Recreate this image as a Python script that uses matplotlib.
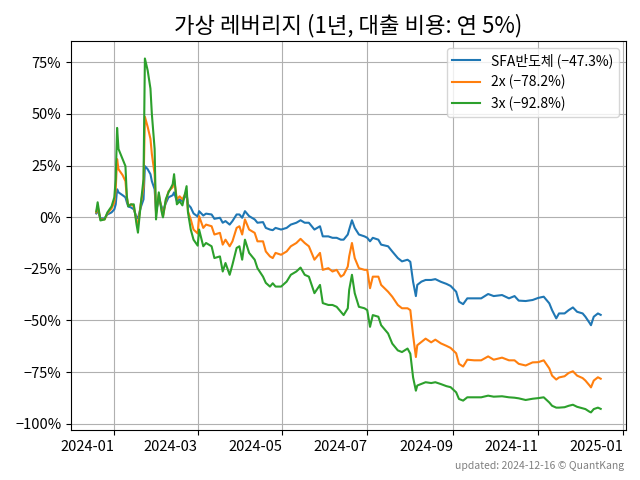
import matplotlib
matplotlib.use('Agg')
import matplotlib.pyplot as plt
import matplotlib.dates as mdates
from matplotlib.ticker import FuncFormatter
import pandas as pd

plt.rcParams['font.family'] = ['Noto Sans CJK KR', 'DejaVu Sans']
plt.rcParams['axes.unicode_minus'] = True

dates = [
    '2023-12-19', '2023-12-20', '2023-12-22', '2023-12-25', '2023-12-27', '2023-12-30',
    '2024-01-01', '2024-01-02', '2024-01-03', '2024-01-04', '2024-01-07', '2024-01-09',
    '2024-01-10', '2024-01-11', '2024-01-13', '2024-01-15', '2024-01-17', '2024-01-18',
    '2024-01-20', '2024-01-22', '2024-01-23', '2024-01-25', '2024-01-27', '2024-01-28',
    '2024-01-30', '2024-01-31', '2024-02-02', '2024-02-04', '2024-02-05', '2024-02-07',
    '2024-02-09', '2024-02-12', '2024-02-13', '2024-02-15', '2024-02-17', '2024-02-19',
    '2024-02-22', '2024-02-23', '2024-02-25', '2024-02-27', '2024-03-01', '2024-03-02',
    '2024-03-05', '2024-03-07', '2024-03-11', '2024-03-13', '2024-03-17', '2024-03-19',
    '2024-03-21', '2024-03-24', '2024-03-26', '2024-03-29', '2024-03-31', '2024-04-02',
    '2024-04-04', '2024-04-07', '2024-04-11', '2024-04-13', '2024-04-17', '2024-04-19',
    '2024-04-22', '2024-04-24', '2024-04-26', '2024-04-30', '2024-05-04', '2024-05-07',
    '2024-05-11', '2024-05-14', '2024-05-17', '2024-05-20', '2024-05-24', '2024-05-28',
    '2024-05-30', '2024-06-03', '2024-06-06', '2024-06-09', '2024-06-12', '2024-06-14',
    '2024-06-17', '2024-06-18', '2024-06-20', '2024-06-22', '2024-06-25', '2024-06-29',
    '2024-07-01', '2024-07-03', '2024-07-05', '2024-07-09', '2024-07-11', '2024-07-16',
    '2024-07-19', '2024-07-23', '2024-07-26', '2024-07-30', '2024-08-01', '2024-08-03',
    '2024-08-05', '2024-08-06', '2024-08-09', '2024-08-12', '2024-08-16', '2024-08-19',
    '2024-08-23', '2024-08-27', '2024-08-30', '2024-09-03', '2024-09-05', '2024-09-08',
    '2024-09-11', '2024-09-16', '2024-09-21', '2024-09-26', '2024-09-30', '2024-10-06',
    '2024-10-11', '2024-10-15', '2024-10-18', '2024-10-23', '2024-10-28', '2024-11-01',
    '2024-11-05', '2024-11-09', '2024-11-11', '2024-11-14', '2024-11-16', '2024-11-20',
    '2024-11-23', '2024-11-26', '2024-11-29', '2024-12-03', '2024-12-05', '2024-12-08',
    '2024-12-09', '2024-12-11', '2024-12-14', '2024-12-16',
]

# cumulative return, %
base_ret = [
    1.8, 3.3, -0.6, -0.6, 1.3, 2.3,
    3.8, 6.2, 13.5, 12.0, 10.6, 9.6,
    7.2, 5.2, 4.7, 3.8, -0.1, -0.6,
    4.7, 8.6, 24.7, 23.2, 20.8, 17.4,
    13.5, 2.8, 8.6, 5.2, 2.8, 6.7,
    9.6, 10.6, 12.0, 7.7, 8.6, 7.7,
    11.1, 6.2, 4.7, 1.8, 0.3, 2.9,
    0.8, 1.7, 1.3, -0.8, -0.3, -2.7,
    -1.9, -3.6, -1.9, 1.3, 1.3, -0.3,
    2.9, 0.5, -1.1, -2.7, -2.4, -5.2,
    -6.0, -6.3, -5.2, -6.0, -5.2, -3.6,
    -2.7, -1.5, -2.7, -2.7, -6.0, -4.4,
    -9.3, -9.3, -10.0, -10.0, -10.9, -10.9,
    -8.4, -6.0, -1.5, -5.2, -8.4, -9.3,
    -10.0, -11.7, -10.0, -10.9, -13.3, -14.1,
    -16.6, -19.8, -21.4, -20.6, -21.6, -31.3,
    -38.2, -32.8, -31.2, -30.4, -30.4, -30.0,
    -31.3, -32.3, -33.3, -36.1, -40.9, -42.1,
    -39.3, -39.3, -39.3, -37.2, -38.2, -37.7,
    -39.3, -38.2, -40.4, -40.6, -40.1, -39.1,
    -38.5, -41.7, -45.0, -49.0, -46.6, -46.6,
    -45.0, -43.7, -45.8, -46.6, -48.2, -51.2,
    -52.3, -48.2, -46.6, -47.3,
]

lev2_ret = [
    2.3, 5.2, -1.1, -1.1, 1.8, 4.2,
    7.2, 13.5, 28.1, 23.2, 20.3, 17.4,
    9.6, 5.7, 6.2, 5.2, -2.1, -4.0,
    6.2, 14.5, 48.6, 43.7, 37.9, 30.6,
    20.8, 1.8, 11.1, 3.8, 0.3, 7.7,
    12.5, 14.5, 18.4, 8.6, 10.1, 8.6,
    12.5, 2.8, -1.1, -6.0, -7.9, 0.5,
    -5.2, -3.6, -4.4, -8.4, -7.6, -13.3,
    -10.9, -14.1, -11.7, -5.2, -4.4, -8.4,
    -1.1, -6.0, -7.6, -11.7, -11.7, -16.6,
    -19.0, -19.8, -17.3, -18.2, -16.6, -14.1,
    -12.5, -10.5, -12.5, -14.1, -20.6, -17.3,
    -25.5, -24.7, -26.3, -25.5, -28.8, -27.9,
    -23.9, -19.0, -12.5, -19.8, -24.7, -25.5,
    -25.5, -34.4, -28.8, -28.8, -32.8, -36.1,
    -38.5, -42.5, -44.1, -44.1, -45.0, -57.2,
    -67.7, -62.0, -60.4, -58.8, -60.6, -59.3,
    -61.1, -62.3, -63.3, -65.9, -71.0, -72.3,
    -69.0, -69.3, -69.3, -67.4, -69.0, -68.0,
    -69.3, -69.3, -71.0, -71.8, -70.3, -70.2,
    -69.3, -73.2, -76.7, -78.6, -77.6, -77.0,
    -75.4, -74.6, -76.7, -77.9, -79.1, -81.5,
    -82.4, -79.1, -77.5, -78.2,
]

lev3_ret = [
    2.8, 7.2, -1.6, -1.1, 2.3, 5.2,
    9.6, 18.4, 43.2, 33.0, 28.1, 24.7,
    10.1, 5.2, 6.2, 6.2, -3.6, -7.5,
    6.2, 18.4, 76.8, 71.0, 62.2, 50.0,
    33.0, -1.1, 12.0, 2.8, -0.1, 8.6,
    12.0, 15.9, 20.8, 6.2, 7.7, 5.7,
    15.0, 2.3, -6.0, -10.9, -13.8, -6.0,
    -14.1, -12.5, -14.1, -19.8, -19.0, -26.3,
    -22.2, -27.9, -23.0, -14.9, -14.1, -20.6,
    -10.9, -17.3, -20.6, -24.7, -28.8, -31.8,
    -33.6, -32.0, -33.6, -33.6, -31.2, -27.9,
    -26.3, -24.4, -27.9, -28.8, -36.8, -32.8,
    -41.6, -42.5, -42.5, -43.4, -45.8, -47.4,
    -44.1, -35.2, -27.9, -36.8, -43.4, -44.1,
    -45.0, -53.1, -47.4, -48.2, -52.3, -56.3,
    -61.2, -64.5, -65.3, -63.6, -66.1, -77.6,
    -84.0, -81.5, -80.7, -79.9, -80.3, -79.9,
    -80.8, -81.8, -82.3, -84.8, -88.0, -88.8,
    -87.2, -87.2, -87.2, -86.4, -86.9, -86.7,
    -87.2, -87.4, -87.7, -88.5, -87.9, -87.6,
    -87.2, -89.7, -91.3, -92.2, -92.2, -92.0,
    -91.3, -90.8, -91.8, -92.5, -92.9, -94.2,
    -94.5, -92.9, -92.2, -92.8,
]

series_names = ['SFA반도체', '2x', '3x']


def fmt_pct(v):
    return f'{v:.1f}%'.replace('-', '\u2212')


df = pd.DataFrame({
    'date': pd.to_datetime(dates),
    'base': base_ret,
    'lev2': lev2_ret,
    'lev3': lev3_ret,
})

fig, ax = plt.subplots(figsize=(6.4, 4.8), dpi=100)
for col, name in zip(['base', 'lev2', 'lev3'], series_names):
    ax.plot(df['date'], df[col], lw=1.5,
            label=f'{name} ({fmt_pct(df[col].iloc[-1])})')

ax.set_title('가상 레버리지 (1년, 대출 비용: 연 5%)', fontsize=16)
ax.xaxis.set_major_locator(mdates.MonthLocator(bymonth=[1, 3, 5, 7, 9, 11]))
ax.xaxis.set_major_formatter(mdates.DateFormatter('%Y-%m'))
for lbl in ax.get_xticklabels():
    lbl.set_ha('right')
ax.yaxis.set_major_formatter(
    FuncFormatter(lambda v, p: f'{v:.0f}%'.replace('-', '\u2212')))
ax.set_yticks([-100, -75, -50, -25, 0, 25, 50, 75])
ax.tick_params(labelsize=10.5)
ax.grid(True, color='#b0b0b0', lw=0.8)
ax.legend(loc='upper right', fontsize=10)

fig.subplots_adjust(left=0.111, right=0.978, bottom=0.104, top=0.915)
fig.text(0.975, 0.03, 'updated: 2024-12-16 © QuantKang', ha='right',
         va='center', fontsize=7.5, color='gray')
fig.savefig('out.png')
